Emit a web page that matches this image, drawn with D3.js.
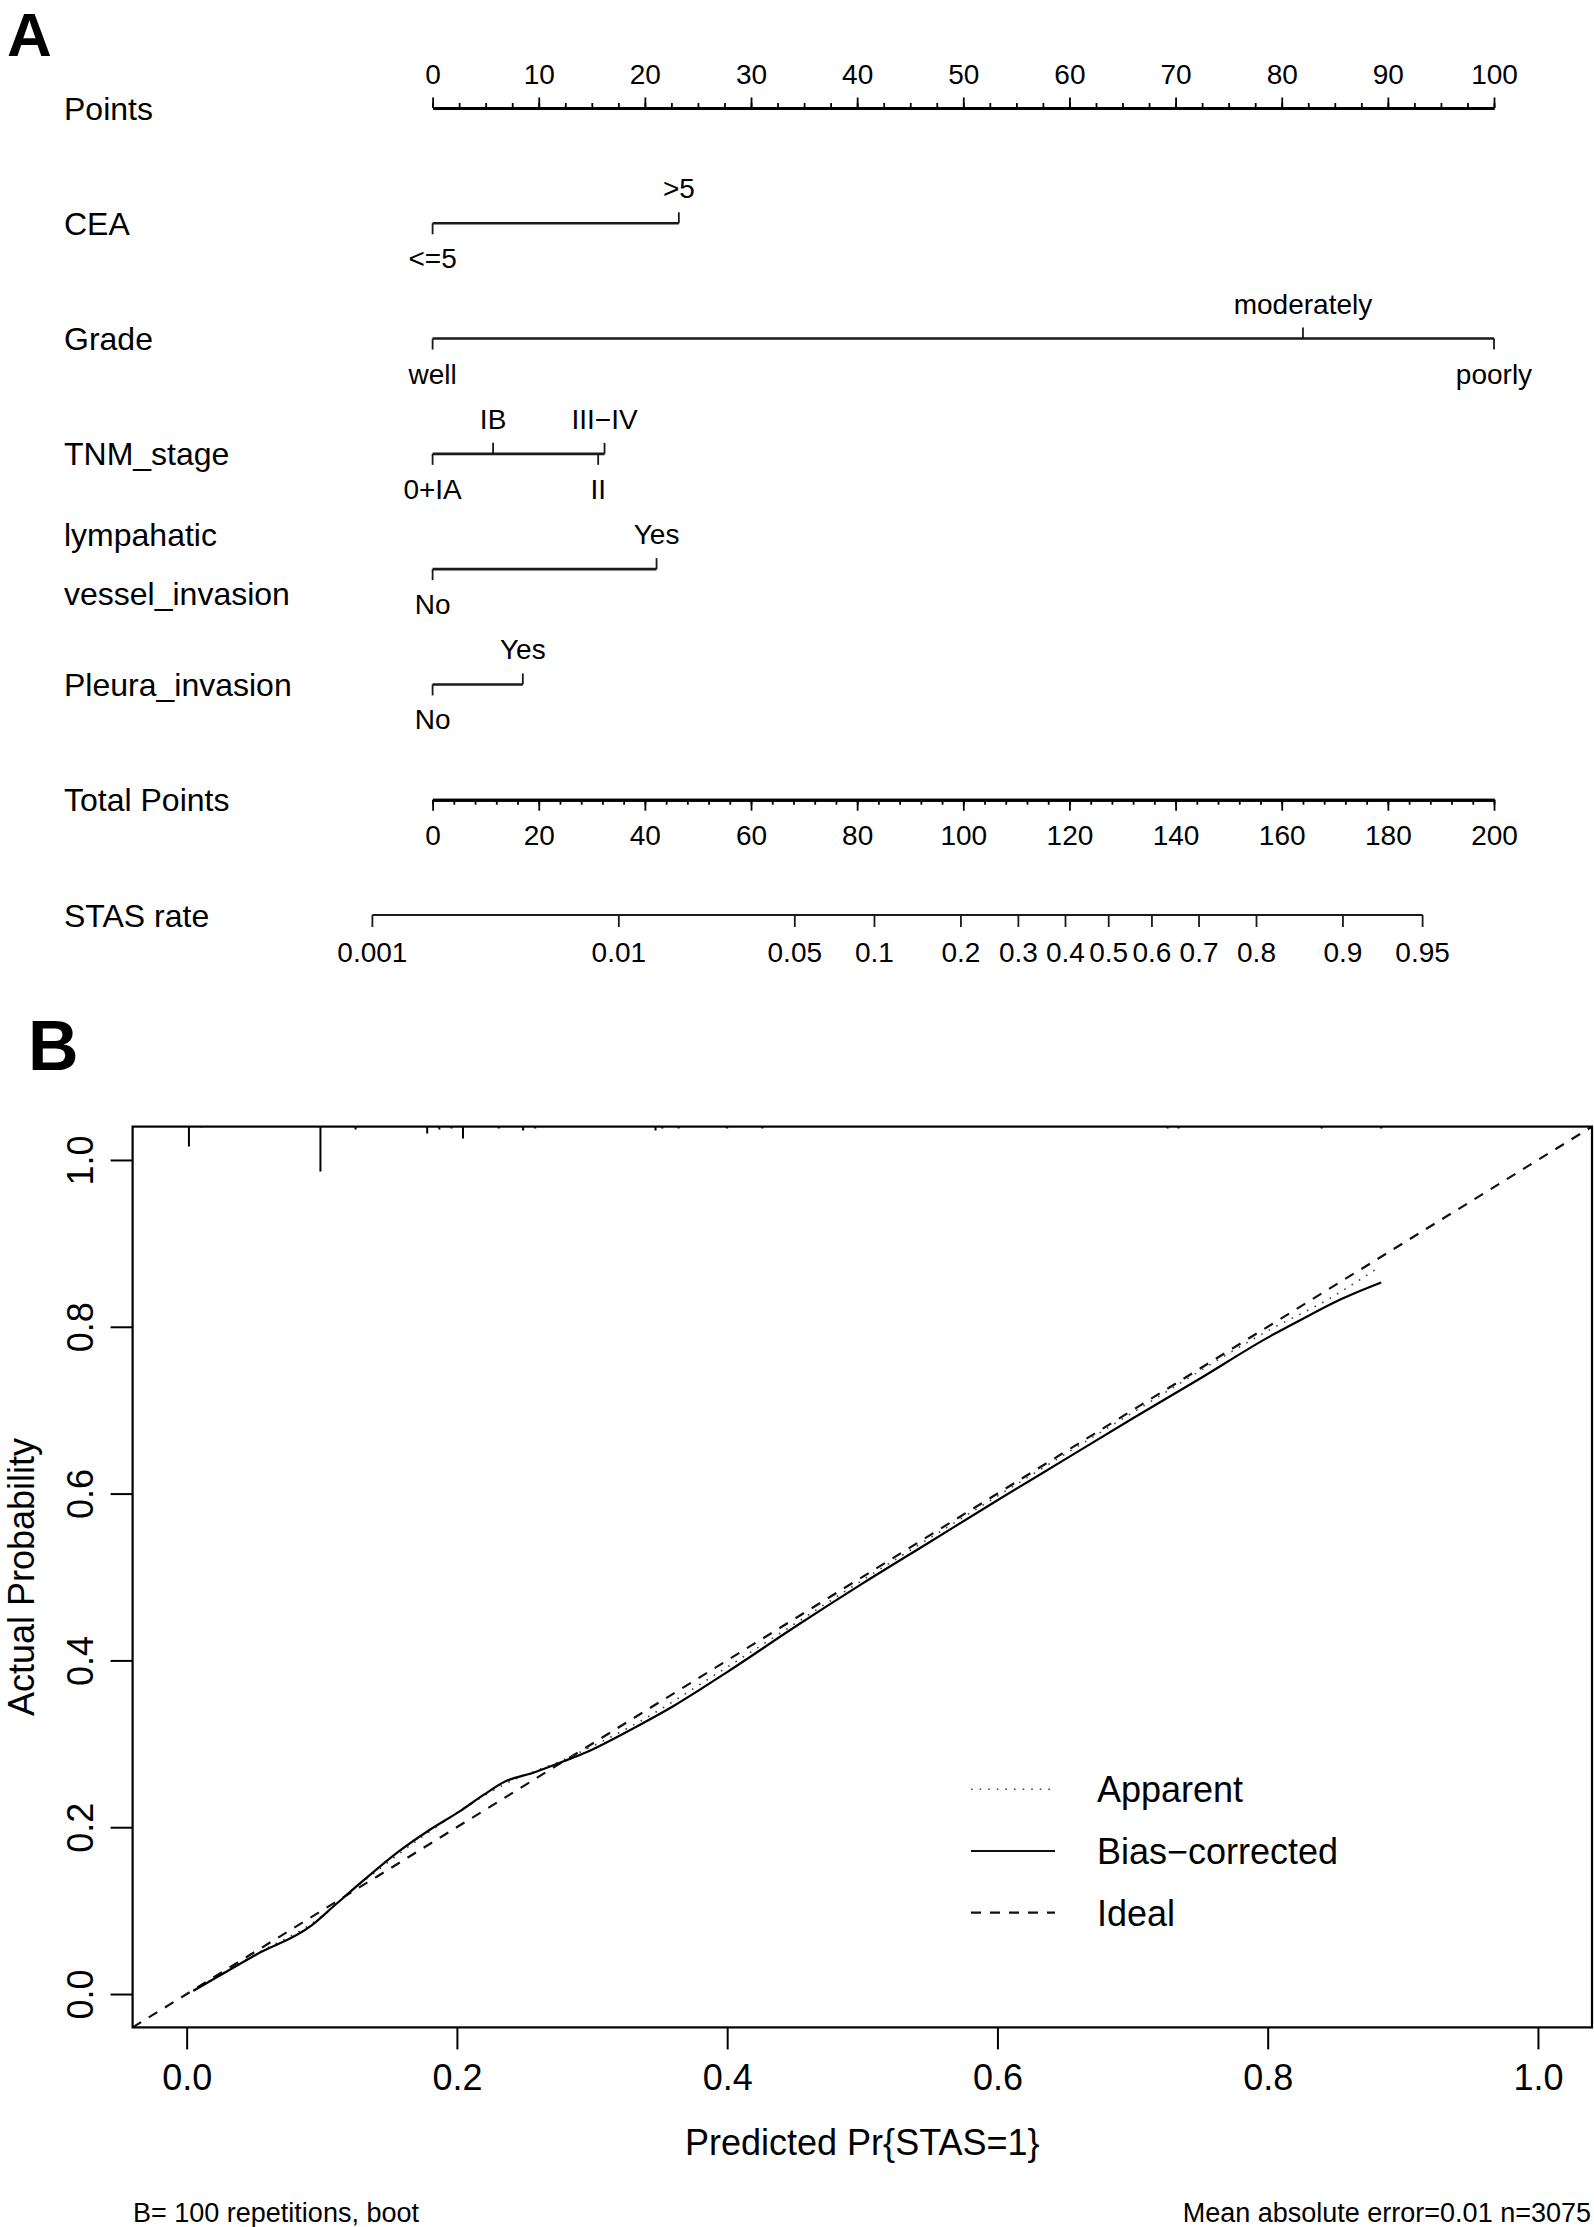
<!DOCTYPE html>
<html>
<head>
<meta charset="utf-8">
<script src="https://cdn.jsdelivr.net/npm/d3@7"></script>
<style>
body { margin: 0; background: #fff; }
svg text { font-family: "Liberation Sans", Arial, sans-serif; fill: #000; }
</style>
</head>
<body>
<div id="chart"></div>
<script>
// nomogram data
var rowNames = ["Points", "CEA", "Grade", "TNM_stage", "lympahatic vessel_invasion", "Pleura_invasion", "Total Points", "STAS rate"];
var pointTicks = d3.range(0, 101, 10);
var ceaLevels = ["<=5", ">5"];
var ceaPoints = [0, 23.2];
var gradeLevels = ["well", "moderately", "poorly"];
var gradePoints = [0, 82, 100];
var tnmLevels = ["0+IA", "IB", "II", "III\u2212IV"];
var tnmPoints = [0, 5.7, 15.6, 16.2];
var lviLevels = ["No", "Yes"];
var lviPoints = [0, 21.1];
var pleuraLevels = ["No", "Yes"];
var pleuraPoints = [0, 8.5];
var totalTicks = d3.range(0, 201, 20);
var stasTicks = [0.001, 0.01, 0.05, 0.1, 0.2, 0.3, 0.4, 0.5, 0.6, 0.7, 0.8, 0.9, 0.95];
var lpIntercept = -6.342, lpPerPoint = 0.04978;

// calibration data
var biasX = [0.005, 0.02, 0.05, 0.093, 0.11, 0.13, 0.157, 0.18, 0.202, 0.22, 0.236, 0.256, 0.279, 0.30, 0.33, 0.36, 0.40, 0.45, 0.50, 0.55, 0.60, 0.65, 0.70, 0.75, 0.80, 0.83, 0.853, 0.884];
var biasY = [0.004, 0.018, 0.046, 0.083, 0.107, 0.135, 0.171, 0.197, 0.219, 0.239, 0.255, 0.265, 0.279, 0.293, 0.318, 0.345, 0.386, 0.44, 0.492, 0.542, 0.592, 0.641, 0.690, 0.738, 0.787, 0.813, 0.832, 0.853];
var apparentX = [0.005, 0.05, 0.093, 0.13, 0.18, 0.236, 0.279, 0.33, 0.40, 0.50, 0.60, 0.70, 0.80, 0.848, 0.881];
var apparentY = [0.004, 0.047, 0.085, 0.134, 0.195, 0.252, 0.281, 0.322, 0.392, 0.496, 0.597, 0.697, 0.795, 0.836, 0.870];
var rugX = [0.0017, 0.011, 0.099, 0.125, 0.178, 0.187, 0.196, 0.2045, 0.231, 0.249, 0.258, 0.347, 0.352, 0.364, 0.40, 0.426, 0.726, 0.734, 0.84, 0.884];
var rugFreq = [20, 1, 45, 3, 7, 3, 2, 12, 2, 4, 2, 4, 2, 2, 2, 2, 2, 2, 2, 2];
var axisTicksB = [0, 0.2, 0.4, 0.6, 0.8, 1.0];
var legendNames = ["Apparent", "Bias\u2212corrected", "Ideal"];

var W = 1594, H = 2227;
var svg = d3.select("#chart").append("svg").attr("width", W).attr("height", H);

//---------------- panel A ----------------
var rowY = d3.scalePoint().domain(rowNames).range([108, 915]);
var pointsX = d3.scaleLinear().domain([0, 100]).range([432.6, 1494]);
var totalX = d3.scaleLinear().domain([0, 200]).range([432.6, 1494]);
var logit = p => Math.log(p / (1 - p));
var stasX = p => totalX((logit(p) - lpIntercept) / lpPerPoint);

svg.append("text").attr("x", 7).attr("y", 56).attr("font-size", 62).attr("font-weight", "bold").text("A");

var labelX = 64;
rowNames.forEach(function(r) {
	if (r.indexOf("vessel") >= 0) {
		svg.append("text").attr("x", labelX).attr("y", rowY(r) - 23.5).attr("font-size", 32).text("lympahatic");
		svg.append("text").attr("x", labelX).attr("y", rowY(r) + 36).attr("font-size", 32).text("vessel_invasion");
	} else {
		svg.append("text").attr("x", labelX).attr("y", rowY(r) + 11.5).attr("font-size", 32).text(r);
	}
});

// Points axis (ticks up)
var gP = svg.append("g").attr("transform", "translate(0," + rowY("Points") + ")");
gP.append("g").call(d3.axisTop(pointsX).tickValues(d3.range(0, 100.1, 2.5)).tickSize(5).tickSizeOuter(0).tickFormat(""));
gP.append("g").call(d3.axisTop(pointsX).tickValues(pointTicks).tickSize(10.5).tickSizeOuter(0).tickPadding(14));
gP.selectAll(".domain").attr("stroke-width", 3);
gP.selectAll(".tick line").attr("stroke-width", 1.8);
gP.selectAll("text").attr("font-size", 28).attr("font-family", null);

// factor rows
var factors = [
	{row: "CEA", levels: ceaLevels, pts: ceaPoints},
	{row: "Grade", levels: gradeLevels, pts: gradePoints},
	{row: "TNM_stage", levels: tnmLevels, pts: tnmPoints},
	{row: "lympahatic vessel_invasion", levels: lviLevels, pts: lviPoints},
	{row: "Pleura_invasion", levels: pleuraLevels, pts: pleuraPoints}
];
factors.forEach(function(f) {
	var y = rowY(f.row);
	var g = svg.append("g").attr("transform", "translate(0," + y + ")");
	g.append("line")
		.attr("x1", pointsX(d3.min(f.pts))).attr("x2", pointsX(d3.max(f.pts)))
		.attr("stroke", "#1a1a1a").attr("stroke-width", 2.6);
	var lv = g.selectAll(".lv").data(f.levels.map((l, i) => ({l: l, p: f.pts[i], up: i % 2 === 1})))
		.enter().append("g").attr("class", "lv");
	lv.append("line")
		.attr("x1", d => pointsX(d.p)).attr("x2", d => pointsX(d.p))
		.attr("y1", 0).attr("y2", d => d.up ? -11 : 11)
		.attr("stroke", "#1a1a1a").attr("stroke-width", 1.8);
	lv.append("text")
		.attr("x", d => pointsX(d.p)).attr("y", d => d.up ? -25 : 45)
		.attr("text-anchor", "middle").attr("font-size", 28)
		.text(d => d.l);
});

// Total points axis (ticks down)
var gT = svg.append("g").attr("transform", "translate(0," + rowY("Total Points") + ")");
gT.append("g").call(d3.axisBottom(totalX).tickValues(d3.range(0, 200.1, 4)).tickSize(5).tickSizeOuter(0).tickFormat(""));
gT.append("g").call(d3.axisBottom(totalX).tickValues(totalTicks).tickSize(11).tickSizeOuter(0));
gT.selectAll(".domain").attr("stroke-width", 3);
gT.selectAll(".tick line").attr("stroke-width", 1.8);
gT.selectAll("text").attr("font-size", 28).attr("font-family", null).attr("y", 45).attr("dy", null);

// STAS rate axis
var gS = svg.append("g").attr("transform", "translate(0," + rowY("STAS rate") + ")");
gS.append("line").attr("x1", stasX(stasTicks[0])).attr("x2", stasX(stasTicks[stasTicks.length - 1]))
	.attr("stroke", "#1a1a1a").attr("stroke-width", 2.2);
var st = gS.selectAll(".st").data(stasTicks).enter().append("g");
st.append("line").attr("x1", d => stasX(d)).attr("x2", d => stasX(d)).attr("y1", 0).attr("y2", 12)
	.attr("stroke", "#1a1a1a").attr("stroke-width", 1.8);
st.append("text").attr("x", d => stasX(d)).attr("y", 47).attr("text-anchor", "middle").attr("font-size", 28).text(d => d);

//---------------- panel B ----------------
svg.append("text").attr("x", 28).attr("y", 1070).attr("font-size", 70).attr("font-weight", "bold").text("B");

var x = d3.scaleLinear().domain([-0.04, 1.04]).range([132.6, 1592]);
var y = d3.scaleLinear().domain([-0.04, 1.04]).range([2027.4, 1126.6]);

svg.append("clipPath").attr("id", "clipB").append("rect")
	.attr("x", x(-0.04)).attr("y", y(1.04)).attr("width", x(1.04) - x(-0.04)).attr("height", y(-0.04) - y(1.04));

var gB = svg.append("g");
var plot = gB.append("g").attr("clip-path", "url(#clipB)");

// ideal
plot.append("line").attr("x1", x(-0.04)).attr("y1", y(-0.04)).attr("x2", x(1.04)).attr("y2", y(1.04))
	.attr("stroke", "#111").attr("stroke-width", 2.2).attr("stroke-dasharray", "10,9");

var line = d3.line().x(d => x(d[0])).y(d => y(d[1])).curve(d3.curveMonotoneX);
plot.append("path").datum(d3.zip(apparentX, apparentY)).attr("d", line)
	.attr("fill", "none").attr("stroke", "#444").attr("stroke-width", 1.6).attr("stroke-dasharray", "1.6,7");
plot.append("path").datum(d3.zip(biasX, biasY)).attr("d", line)
	.attr("fill", "none").attr("stroke", "#000").attr("stroke-width", 2.2);

// rug at top
var rugLen = d3.scaleLinear().domain([0, d3.max(rugFreq)]).range([0, 45]);
plot.selectAll(".rug").data(d3.zip(rugX, rugFreq)).enter().append("line")
	.attr("x1", d => x(d[0])).attr("x2", d => x(d[0]))
	.attr("y1", y(1.04)).attr("y2", d => y(1.04) + rugLen(d[1]))
	.attr("stroke", "#000").attr("stroke-width", 2);

// frame
gB.append("rect").attr("x", x(-0.04)).attr("y", y(1.04))
	.attr("width", x(1.04) - x(-0.04)).attr("height", y(-0.04) - y(1.04))
	.attr("fill", "none").attr("stroke", "#000").attr("stroke-width", 2.2);

// x axis
var gx = gB.append("g").attr("transform", "translate(0," + y(-0.04) + ")")
	.call(d3.axisBottom(x).tickValues(axisTicksB).tickSize(22).tickFormat(d3.format(".1f")));
gx.select(".domain").remove();
gx.selectAll(".tick line").attr("stroke-width", 2);
gx.selectAll("text").attr("font-size", 36).attr("font-family", null).attr("y", 63).attr("dy", null);

// y axis, labels rotated
var gy = gB.append("g").attr("transform", "translate(" + x(-0.04) + ",0)")
	.call(d3.axisLeft(y).tickValues(axisTicksB).tickSize(22).tickFormat(d3.format(".1f")));
gy.select(".domain").remove();
gy.selectAll(".tick line").attr("stroke-width", 2);
gy.selectAll("text").attr("font-size", 36).attr("font-family", null)
	.attr("x", null).attr("dy", null).attr("text-anchor", "middle")
	.attr("transform", "translate(-40,0) rotate(-90)");

gB.append("text").attr("x", (x(-0.04) + x(1.04)) / 2).attr("y", 2155).attr("text-anchor", "middle")
	.attr("font-size", 36).text("Predicted Pr{STAS=1}");
gB.append("text").attr("transform", "translate(34," + (y(-0.04) + y(1.04)) / 2 + ") rotate(-90)")
	.attr("text-anchor", "middle").attr("font-size", 36).text("Actual Probability");

// legend
var legY = d3.scalePoint().domain(legendNames).range([1789.3, 1912.7]);
var dash = {"Apparent": "1.6,7", "Bias\u2212corrected": null, "Ideal": "10,9"};
var lg = gB.selectAll(".leg").data(legendNames).enter().append("g");
lg.append("line").attr("x1", 971).attr("x2", 1055).attr("y1", d => legY(d)).attr("y2", d => legY(d))
	.attr("stroke", d => d === "Apparent" ? "#444" : "#111")
	.attr("stroke-width", d => d === "Apparent" ? 1.6 : 2.2)
	.attr("stroke-dasharray", d => dash[d]);
lg.append("text").attr("x", 1097).attr("y", d => legY(d) + 13).attr("font-size", 36).text(d => d);

// footnotes
gB.append("text").attr("x", 133).attr("y", 2222).attr("font-size", 27).text("B= 100 repetitions, boot");
gB.append("text").attr("x", 1591).attr("y", 2222).attr("text-anchor", "end").attr("font-size", 27).text("Mean absolute error=0.01 n=3075");
</script>
</body>
</html>
